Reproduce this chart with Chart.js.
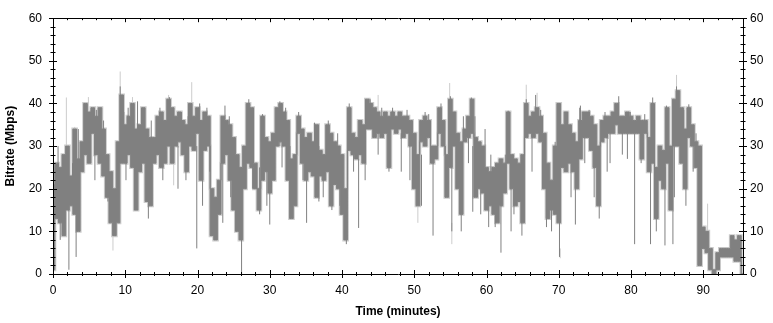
<!DOCTYPE html>
<html>
<head>
<meta charset="utf-8">
<script src="https://cdn.jsdelivr.net/npm/chart.js@4.4.0/dist/chart.umd.min.js"></script>
<style>
  html, body { margin: 0; padding: 0; background: #fff; }
  canvas { display: block; }
</style>
</head>
<body>
<canvas id="grafico" width="773" height="323"></canvas>
<script>
// the trace is read as a band (upper and lower edge) every half minute
const bandStep = 0.5;

// upper edge of the bitrate band (Mbps), 10 values = 5 minutes per row
const bandHigh = [
  21, 26, 25, 28, 30, 23, 34, 27, 31, 40,
  38, 39, 37, 39, 34, 28, 24, 20, 31, 42,
  35, 37, 40, 34, 35, 39, 34, 32, 32, 37,
  38, 36, 41, 39, 37, 38, 36, 35, 40, 37,
  39, 36, 38, 37, 20, 18, 22, 37, 36, 35,
  32, 28, 25, 30, 40, 39, 26, 20, 37, 32,
  31, 33, 39, 40, 38, 36, 27, 28, 37, 34,
  32, 33, 31, 35, 29, 28, 35, 33, 31, 30,
  28, 20, 39, 33, 32, 36, 35, 41, 40, 39,
  38, 37, 38, 37, 38, 37, 38, 37, 37, 36,
  33, 28, 36, 37, 36, 30, 30, 39, 36, 28,
  41, 38, 33, 31, 34, 37, 41, 32, 31, 30,
  25, 24, 25, 26, 27, 26, 38, 28, 27, 26,
  28, 40, 37, 38, 39, 37, 33, 26, 22, 30,
  40, 35, 38, 35, 33, 31, 36, 38, 38, 37,
  35, 30, 36, 37, 37, 38, 40, 37, 37, 38,
  37, 36, 37, 36, 36, 32, 40, 25, 30, 29,
  39, 30, 41, 43, 39, 34, 39, 35, 31, 30,
  11, 10, 6, 1, 5, 6, 6, 6, 9, 8,
  9, 0
];

// lower edge of the bitrate band (Mbps)
const bandLow = [
  1, 13, 12, 9, 15, 16, 14, 10, 24, 28,
  26, 33, 28, 26, 23, 18, 12, 9, 12, 26,
  26, 28, 25, 15, 24, 26, 17, 16, 26, 28,
  25, 26, 30, 26, 30, 31, 28, 24, 30, 29,
  33, 22, 29, 30, 9, 8, 14, 26, 28, 22,
  15, 10, 8, 20, 26, 25, 20, 15, 22, 24,
  19, 22, 30, 31, 30, 22, 13, 16, 33, 26,
  22, 24, 23, 18, 23, 22, 24, 16, 21, 20,
  14, 8, 29, 28, 27, 28, 26, 34, 34, 32,
  33, 32, 33, 25, 34, 33, 34, 32, 33, 30,
  20, 16, 31, 30, 32, 26, 27, 33, 30, 18,
  25, 30, 20, 14, 31, 32, 33, 18, 20, 19,
  15, 16, 14, 12, 16, 19, 26, 20, 16, 17,
  12, 32, 33, 32, 33, 31, 20, 13, 15, 14,
  12, 25, 24, 26, 24, 20, 27, 32, 32, 29,
  25, 16, 31, 32, 33, 33, 35, 33, 33, 33,
  33, 33, 33, 27, 33, 24, 26, 13, 22, 20,
  26, 15, 30, 30, 26, 20, 32, 30, 25, 2,
  6, 5, 1, 0, 1, 4, 4, 4, 4, 3,
  3, 0
];

// short drops below the band: [minute, low, high]
const dips = [
  [1.0, 8, 15], [2.2, 1, 20], [3.2, 4, 22], [5.8, 22, 30], [7.6, 17, 25],
  [10.1, 22, 28], [11.3, 15, 25], [13.2, 13, 30], [15.2, 22, 27], [17.3, 20, 30],
  [18.4, 22, 30], [19.9, 6, 30], [20.7, 16, 33], [21.7, 24, 30], [23.5, 12, 30],
  [24.6, 18, 28], [26.1, 0, 25], [27.6, 20, 27], [28.6, 14, 25], [29.6, 16, 24],
  [30.0, 11.6, 25], [31.7, 25, 32], [32.8, 17, 30], [34.6, 22, 30], [35.1, 12, 25],
  [36.8, 17, 30], [37.4, 18, 25], [38.6, 15, 28], [39.7, 16, 24], [40.6, 7, 20],
  [41.6, 24, 30], [42.3, 10.8, 27], [43.2, 22, 30], [45.0, 28, 35], [46.5, 24, 33],
  [48.2, 24, 33], [49.4, 22, 32], [51.0, 16, 28], [52.6, 9, 30], [54.3, 18, 30],
  [55.2, 10, 30], [56.5, 10, 25], [57.5, 26, 33], [58.1, 14.6, 30], [59.2, 14, 28],
  [60.3, 11, 18], [61.2, 11, 20], [62.0, 5, 20], [63.4, 10, 25], [63.8, 14, 20],
  [64.9, 9, 20], [66.3, 24, 33], [68.3, 11, 25], [69.0, 10, 18], [70.1, 4, 25],
  [71.7, 18, 26], [72.3, 11.6, 25], [73.6, 26, 32], [74.9, 18, 30], [75.6, 13, 25],
  [76.7, 24, 33], [77.1, 26, 33], [78.8, 28, 34], [79.5, 27, 33], [80.5, 7, 33],
  [81.4, 26, 33], [82.7, 7, 30], [83.5, 10, 25], [84.7, 6.7, 25], [85.8, 7, 30],
  [86.0, 18, 30], [87.6, 16, 30], [88.6, 24, 33], [89.4, 20, 27]
];

// short bursts above the band: [minute, low, high]
const bursts = [
  [0.7, 20, 30], [1.4, 18, 27], [2.7, 18, 26], [3.5, 20, 34], [4.6, 30, 40],
  [5.3, 33, 38.5], [6.0, 30, 38.5], [7.0, 28, 36], [9.3, 30, 44], [9.8, 30, 38],
  [10.4, 30, 39], [11.7, 30, 40.5], [12.5, 30, 39], [13.6, 28, 36], [14.8, 30, 39],
  [16.1, 30, 41.5], [17.8, 32, 38], [18.7, 30, 37], [20.3, 33, 40], [21.3, 32, 39],
  [23.8, 30, 39.5], [24.4, 30, 37], [27.1, 30, 41], [29.0, 28, 37.5], [31.4, 30, 40.5],
  [32.2, 30, 39], [34.0, 33, 38], [36.2, 28, 35.5], [38.1, 28, 36], [39.4, 26, 33],
  [41.0, 32, 40], [42.7, 30, 36], [43.9, 35, 41], [45.5, 35, 39], [47.0, 35, 39],
  [49.0, 34, 38.5], [51.5, 33, 38], [52.0, 33, 37.5], [53.7, 33, 40], [55.0, 30, 41.7],
  [56.8, 32, 37], [57.9, 35, 41.4], [58.4, 30, 37], [59.8, 25, 34], [60.6, 22, 28],
  [62.6, 22, 28], [63.0, 30, 38.3], [65.5, 35, 41], [66.8, 35, 42], [67.5, 35, 38.5],
  [69.5, 25, 31], [70.0, 30, 40], [71.2, 30, 38], [72.9, 32, 39], [73.0, 33, 39.5],
  [74.2, 34, 38.5], [76.4, 33, 38], [78.3, 35, 41.7], [79.9, 34, 38], [81.9, 33, 37.5],
  [83.0, 30, 41.4], [84.9, 30, 39.5], [86.3, 35, 44], [87.3, 30, 38.5], [88.0, 33, 39.8],
  [89.0, 27, 33]
];

// peak bitrate spikes (light trace): [minute, low, high]
const peaks = [
  [1.85, 25, 41.4], [3.0, 25, 34.5], [4.9, 38, 41.5], [8.3, 5.5, 12], [9.3, 40, 47.5],
  [11.0, 35, 41.5], [16.0, 38, 42], [16.7, 20.8, 28], [19.2, 37, 45], [45.0, 38, 42],
  [50.5, 12, 17], [54.9, 40, 44.8], [55.2, 7, 12], [65.5, 38, 44.4], [67.0, 38, 42.5],
  [70.2, 3.7, 6], [86.3, 40, 46.7], [90.6, 10, 16.5]
];

const xTicks = [0, 10, 20, 30, 40, 50, 60, 70, 80, 90];

const highPoints = bandHigh.map((v, i) => ({ x: i * bandStep, y: v }));
const lowPoints = bandLow.map((v, i) => ({ x: i * bandStep, y: v }));

function segments(list) {
  const out = [];
  list.forEach(s => {
    out.push({ x: s[0], y: s[1] }, { x: s[0], y: s[2] }, { x: s[0], y: null });
  });
  return out;
}

// axis box with tick marks crossing the axes
const boxPlugin = {
  id: 'box',
  afterDraw(chart) {
    const c = chart.ctx;
    const a = chart.chartArea;
    const x = chart.scales.x, y = chart.scales.y;
    c.save();
    c.strokeStyle = '#000';
    c.lineWidth = 1;
    c.beginPath();
    c.rect(Math.round(a.left) + 0.5, Math.round(a.top) + 0.5,
           Math.round(a.right - a.left), Math.round(a.bottom - a.top));
    for (let v = 0; v <= 60; v += 2) {
      const py = Math.round(y.getPixelForValue(v)) + 0.5;
      const len = v % 10 === 0 ? 4 : 2.5;
      c.moveTo(a.left - len, py); c.lineTo(a.left + len, py);
      c.moveTo(a.right - len, py); c.lineTo(a.right + len, py);
    }
    for (let v = 0; v <= 95; v += 2) {
      const px = Math.round(x.getPixelForValue(v)) + 0.5;
      const len = v % 10 === 0 ? 4 : 2;
      c.moveTo(px, a.bottom - len); c.lineTo(px, a.bottom + len);
      c.moveTo(px, a.top); c.lineTo(px, a.top + len);
    }
    c.stroke();
    c.restore();
  }
};

const fonte = { family: 'Arial, "Liberation Sans", sans-serif', size: 12 };
const fonteBold = { family: 'Arial, "Liberation Sans", sans-serif', size: 12, weight: 'bold' };
const cinza = '#808080';
const cinzaClaro = '#cccccc';

new Chart(document.getElementById('grafico'), {
  type: 'line',
  data: {
    datasets: [
      { // 0: dips and bursts
        data: segments(dips).concat(segments(bursts)),
        borderColor: cinza, borderWidth: 1, pointRadius: 0, order: 0
      },
      { // 1: band upper edge, filled down to dataset 2
        data: highPoints, borderColor: cinza, backgroundColor: cinza,
        borderWidth: 1, pointRadius: 0, stepped: 'middle', fill: '+1', order: 1
      },
      { // 2: band lower edge
        data: lowPoints, borderColor: cinza,
        borderWidth: 1, pointRadius: 0, stepped: 'middle', fill: false, order: 1
      },
      { // 3: light fringe on the upper edge
        data: highPoints, borderColor: cinzaClaro,
        borderWidth: 3, pointRadius: 0, stepped: 'middle', fill: false, order: 3
      },
      { // 4: light fringe on the lower edge
        data: lowPoints, borderColor: cinzaClaro,
        borderWidth: 3, pointRadius: 0, stepped: 'middle', fill: false, order: 3
      },
      { // 5: peak spikes
        data: segments(peaks), borderColor: cinzaClaro,
        borderWidth: 1, pointRadius: 0, order: 2
      }
    ]
  },
  options: {
    responsive: false,
    animation: false,
    layout: { padding: { top: 12, left: 0, right: 0, bottom: 0 } },
    plugins: { legend: { display: false }, tooltip: { enabled: false } },
    scales: {
      x: {
        type: 'linear', min: 0, max: 95.5,
        grid: { display: false, drawTicks: false },
        border: { display: false },
        afterFit: s => { s.height = 49; },
        afterBuildTicks: s => { s.ticks = xTicks.map(v => ({ value: v })); },
        ticks: { color: '#000', font: fonte, padding: 9, maxRotation: 0 },
        title: { display: true, text: 'Time (minutes)', color: '#000', font: fonteBold, padding: { top: 4, bottom: 4 } }
      },
      y: {
        position: 'left', min: 0, max: 60,
        grid: { display: false, drawTicks: false },
        border: { display: false },
        afterFit: s => { s.width = 53; },
        ticks: { stepSize: 10, color: '#000', font: fonte, padding: 11 },
        title: { display: true, text: 'Bitrate (Mbps)', color: '#000', font: fonteBold, padding: { top: 3, bottom: 0 } }
      },
      y2: {
        position: 'right', min: 0, max: 60,
        grid: { display: false, drawTicks: false },
        border: { display: false },
        afterFit: s => { s.width = 30; },
        ticks: { stepSize: 10, color: '#000', font: fonte, padding: 7 }
      }
    }
  },
  plugins: [boxPlugin]
});
</script>
</body>
</html>
